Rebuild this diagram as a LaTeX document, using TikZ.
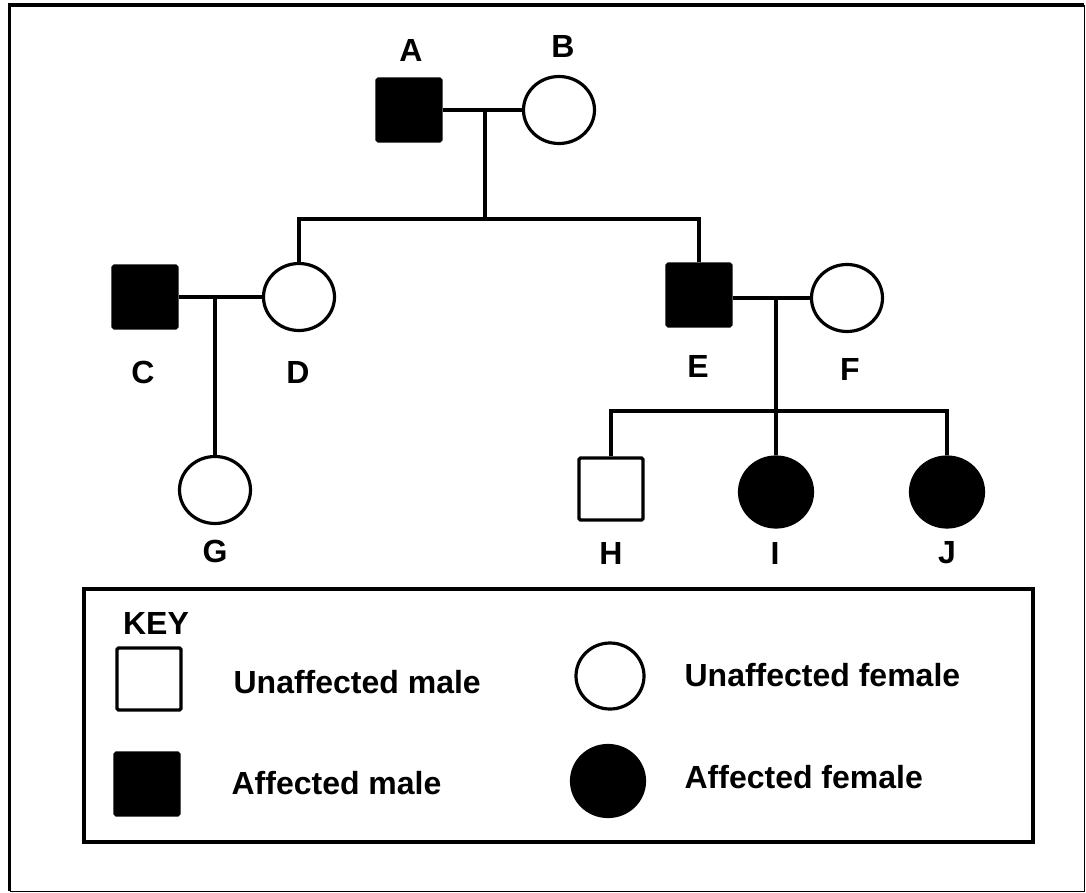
\documentclass[tikz,border=0pt]{standalone}
\usepackage{fontspec}
\setmainfont{Liberation Sans}
\usetikzlibrary{shapes.geometric}
\newcommand{\pedfont}{\fontsize{32}{37}\selectfont\bfseries}
\begin{document}
\begin{tikzpicture}[x=1pt,y=-1pt,line width=3.2pt,
  male/.style={draw, rectangle, minimum width=64pt, minimum height=62pt, inner sep=0pt, rounded corners=1.5pt},
  female/.style={draw, ellipse, minimum width=71pt, minimum height=67pt, inner sep=0pt},
  aff/.style={fill=black},
  unaff/.style={fill=white},
  lbl/.style={font=\pedfont, inner sep=0pt},
  keytext/.style={font=\pedfont, inner sep=0pt, anchor=west}]
\useasboundingbox (0,0) rectangle (1086,893);
% outer frame
\draw[line width=3.5pt] (9.5,891) -- (9.5,5) -- (1084,5);
\draw[line width=1pt] (1084,5) -- (1084,891) -- (9.5,891);

% generation I
\node[male, aff] (A) at (409,110) {};
\node[female, unaff] (B) at (559,110) {};
\node[lbl] (lA) at (411,50) {A};
\node[lbl] (lB) at (563,46) {B};
\draw (A.east) -- (B.west);
\coordinate (ab) at (485,110);
\coordinate (s1) at (485,219);
\draw (ab) -- (s1);

% generation II
\node[male, aff] (C) at (145,297) {};
\node[female, unaff] (D) at (299,297) {};
\node[male, aff] (E) at (699,295) {};
\node[female, unaff] (F) at (847,298) {};
\node[lbl] (lC) at (143,372) {C};
\node[lbl] (lD) at (298,372) {D};
\node[lbl] (lE) at (698,366) {E};
\node[lbl] (lF) at (850,369) {F};
\draw (D.north) |- (s1) -| (E.north);
\draw (C.east) -- (D.west);
\draw (E.east |- F.west) -- (F.west);

% generation III
\coordinate (cd) at (215,297);
\coordinate (ef) at (776,298);
\coordinate (s2) at (776,411);
\node[female, unaff] (G) at (215,490) {};
\node[male, unaff] (H) at (611,489) {};
\node[female, aff, minimum width=73pt, minimum height=70pt] (I) at (776,492) {};
\node[female, aff, minimum width=73pt, minimum height=70pt] (J) at (947,492) {};
\node[lbl] (lG) at (215,551) {G};
\node[lbl] (lH) at (611,553) {H};
\node[lbl] (lI) at (775,553) {I};
\node[lbl] (lJ) at (947,553) {J};
\draw (cd) -- (G.north);
\draw (ef) -- (I.north);
\draw (H.north) |- (s2) -| (J.north);

% key
\draw[line width=3.5pt] (84,589) rectangle (1033,842);
\node[lbl] (key) at (156,623) {KEY};
\node[male, unaff] (kum) at (149,679) {};
\node[male, aff] (kam) at (147,784) {};
\node[female, unaff, minimum width=68pt, minimum height=66pt] (kuf) at (610,676) {};
\node[female, aff, minimum width=73pt, minimum height=71pt] (kaf) at (608,781) {};
\node[keytext] (tum) at (232,682) {Unaffected male};
\node[keytext] (tam) at (230,783) {Affected male};
\node[keytext] (tuf) at (683,675) {Unaffected female};
\node[keytext] (taf) at (683,777) {Affected female};
\end{tikzpicture}
\end{document}
